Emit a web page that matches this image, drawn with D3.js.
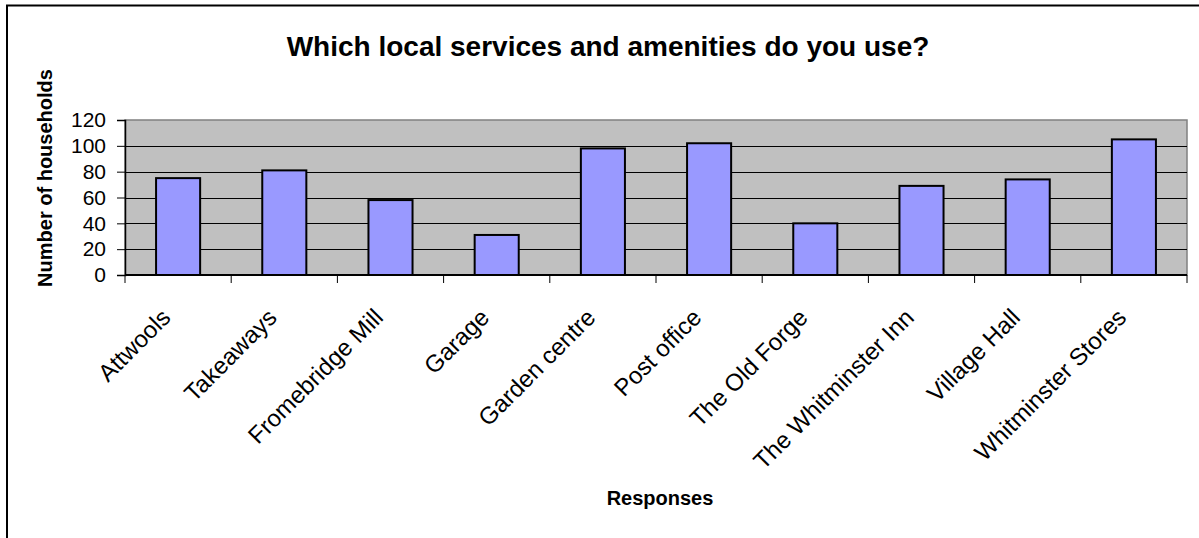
<!DOCTYPE html>
<html>
<head>
<meta charset="utf-8">
<script src="https://cdn.jsdelivr.net/npm/d3@7"></script>
<style>
  html, body { margin: 0; padding: 0; background: #fff; }
  svg { display: block; font-family: Arial, "Liberation Sans", sans-serif; }
</style>
</head>
<body>
<svg id="chart" width="1199" height="538"></svg>
<script>
// Survey responses: households using each local service / amenity
const categories = [
  "Attwools", "Takeaways", "Fromebridge Mill", "Garage", "Garden centre",
  "Post office", "The Old Forge", "The Whitminster Inn", "Village Hall", "Whitminster Stores"
];
const households = [75, 81, 58, 31, 98, 102, 40, 69, 74, 105];
const yTicks = [0, 20, 40, 60, 80, 100, 120];

const chartTitle = "Which local services and amenities do you use?";
const yTitle = "Number of households";
const xTitle = "Responses";

const svg = d3.select("#chart");
const W = 1199, H = 538;
const plot = { left: 125, right: 1187, top: 120, bottom: 275 };

// Outer chart frame
svg.append("rect")
  .attr("x", 7).attr("y", 5.5)
  .attr("width", W + 20).attr("height", H + 20)
  .attr("fill", "#fff").attr("stroke", "#000").attr("stroke-width", 2);

const x = d3.scaleBand().domain(categories).range([plot.left, plot.right]);
const y = d3.scaleLinear().domain([0, 120]).range([plot.bottom, plot.top]);

// Plot area background
svg.append("rect")
  .attr("x", plot.left).attr("y", plot.top)
  .attr("width", plot.right - plot.left).attr("height", plot.bottom - plot.top)
  .attr("fill", "#C0C0C0").attr("stroke", "#808080").attr("stroke-width", 1.5);

// Horizontal gridlines
svg.append("g").selectAll("line")
  .data(yTicks.filter(t => t > 0 && t < 120))
  .join("line")
  .attr("x1", plot.left).attr("x2", plot.right)
  .attr("y1", d => Math.round(y(d)) + 0.5).attr("y2", d => Math.round(y(d)) + 0.5)
  .attr("stroke", "#000").attr("stroke-width", 1);

// Bars
const barW = x.bandwidth() * 0.415;
svg.append("g").selectAll("rect")
  .data(categories.map((c, i) => ({ c, v: households[i] })))
  .join("rect")
  .attr("x", d => x(d.c) + (x.bandwidth() - barW) / 2)
  .attr("y", d => y(d.v))
  .attr("width", barW)
  .attr("height", d => y(0) - y(d.v))
  .attr("fill", "#9999FF")
  .attr("stroke", "#000")
  .attr("stroke-width", 2);

// Y axis
const yAxis = svg.append("g")
  .attr("transform", `translate(${plot.left},0)`)
  .call(d3.axisLeft(y).tickValues(yTicks).tickSize(8).tickPadding(11).tickFormat(d3.format("d")));
yAxis.select(".domain").attr("stroke", "#000").attr("stroke-width", 1.5);
yAxis.selectAll(".tick line").attr("stroke", "#000");
yAxis.selectAll(".tick text")
  .attr("font-size", 21).attr("fill", "#000")
  .attr("font-family", "Arial, 'Liberation Sans', sans-serif");

// X axis: ticks at category boundaries
const xAxisG = svg.append("g");
xAxisG.append("line")
  .attr("x1", plot.left).attr("x2", plot.right)
  .attr("y1", plot.bottom).attr("y2", plot.bottom)
  .attr("stroke", "#000").attr("stroke-width", 2);
const boundaries = categories.map(c => x(c)).concat([x(categories[categories.length - 1]) + x.bandwidth()]);
xAxisG.selectAll("line.tk")
  .data(boundaries)
  .join("line").attr("class", "tk")
  .attr("x1", d => d).attr("x2", d => d)
  .attr("y1", plot.bottom).attr("y2", plot.bottom + 8)
  .attr("stroke", "#000").attr("stroke-width", 1);

// Rotated category labels
xAxisG.selectAll("text")
  .data(categories)
  .join("text")
  .attr("transform", d => `translate(${x(d) + x.bandwidth() / 2 - 12},${plot.bottom + 38}) rotate(-45)`)
  .attr("text-anchor", "end")
  .attr("dy", "0.35em")
  .attr("font-size", 24)
  .attr("fill", "#000")
  .text(d => d);

// Titles
svg.append("text")
  .attr("x", 608).attr("y", 56)
  .attr("text-anchor", "middle")
  .attr("font-size", 28).attr("font-weight", "bold")
  .text(chartTitle);

svg.append("text")
  .attr("transform", `translate(52,178) rotate(-90)`)
  .attr("text-anchor", "middle")
  .attr("font-size", 20).attr("font-weight", "bold")
  .text(yTitle);

svg.append("text")
  .attr("x", 660).attr("y", 505)
  .attr("text-anchor", "middle")
  .attr("font-size", 20).attr("font-weight", "bold")
  .text(xTitle);
</script>
</body>
</html>
